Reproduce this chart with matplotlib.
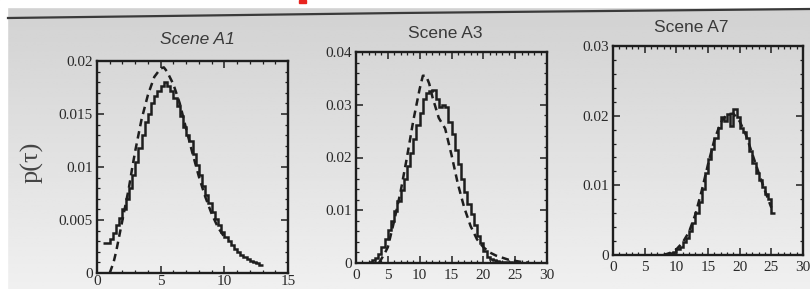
import matplotlib.pyplot as plt
import numpy as np
from matplotlib.lines import Line2D
from matplotlib.patches import Rectangle
from matplotlib.ticker import FuncFormatter, MultipleLocator

W, H = 810, 289

# Scene A1: measured histogram (solid steps) and model curve (dashed)
A1_EDGES = np.arange(0.5, 13.01, 0.25)
A1_HIST = [0.0028, 0.0028, 0.0032, 0.0038, 0.0045, 0.0052, 0.0060, 0.0070,
           0.0080, 0.0092, 0.0105, 0.0118, 0.0130, 0.0142, 0.0150, 0.0160,
           0.0167, 0.0172, 0.0176, 0.0180, 0.0176, 0.0172, 0.0165, 0.0158,
           0.0148, 0.0138, 0.0130, 0.0125, 0.0112, 0.0102, 0.0092, 0.0082,
           0.0074, 0.0066, 0.0058, 0.0051, 0.0045, 0.0039, 0.0034, 0.0030,
           0.0026, 0.0023, 0.0020, 0.0017, 0.0015, 0.0013, 0.0011, 0.0010,
           0.0009, 0.0008]
A1_FIT_X = [1.0, 1.3, 1.5, 1.75, 2.0, 2.25, 2.5, 2.75, 3.0, 3.5, 4.0, 4.5,
            5.0, 5.25, 5.5, 6.0, 6.5, 7.0, 7.5, 8.0, 8.5, 9.0, 9.5, 10.0]
A1_FIT_Y = [0.0, 0.001, 0.002, 0.0035, 0.005, 0.0065, 0.008, 0.0098, 0.0115,
            0.0145, 0.0168, 0.0185, 0.0193, 0.0194, 0.019, 0.0178, 0.016,
            0.0136, 0.0113, 0.0091, 0.0072, 0.0056, 0.0043, 0.0034]

# Scene A3
A3_EDGES = np.arange(2.0, 25.01, 0.5)
A3_HIST = [0.0002, 0.0005, 0.0010, 0.0018, 0.0030, 0.0045, 0.0062, 0.0080,
           0.0098, 0.0118, 0.0138, 0.0160, 0.0183, 0.0208, 0.0235, 0.0262,
           0.0285, 0.0310, 0.0322, 0.0326, 0.0328, 0.0310, 0.0295, 0.0300,
           0.0296, 0.0268, 0.0245, 0.0215, 0.0188, 0.0160, 0.0135, 0.0112,
           0.0092, 0.0072, 0.0052, 0.0038, 0.0022, 0.0012, 0.0008, 0.0005,
           0.0003, 0.0002, 0.0001, 0.0001, 0.0001, 0.0]
A3_FIT_X = [3.6, 4.0, 4.5, 5.0, 5.5, 6.0, 7.0, 8.0, 9.0, 10.0, 10.5, 11.0,
            11.5, 12.0, 13.0, 14.0, 15.0, 16.0, 17.0, 18.0, 19.0, 20.0, 21.0,
            22.0, 23.0, 24.0, 25.0, 26.0, 27.0]
A3_FIT_Y = [0.0, 0.0008, 0.0018, 0.003, 0.0055, 0.008, 0.0135, 0.020, 0.027,
            0.033, 0.0355, 0.0355, 0.034, 0.0315, 0.0275, 0.0255, 0.0205,
            0.015, 0.0105, 0.007, 0.0045, 0.003, 0.002, 0.0014, 0.001, 0.0006,
            0.0004, 0.0002, 0.0001]

# Scene A7
A7_EDGES = np.arange(8.0, 25.51, 0.5)
A7_HIST = [0.0001, 0.0002, 0.0003, 0.0005, 0.0008, 0.0012, 0.0018, 0.0025,
           0.0034, 0.0046, 0.0060, 0.0076, 0.0095, 0.0118, 0.0138, 0.0152,
           0.0168, 0.0182, 0.0198, 0.0192, 0.0202, 0.0185, 0.0210, 0.0198,
           0.0182, 0.0176, 0.0168, 0.0150, 0.0132, 0.0118, 0.0108, 0.0098,
           0.0088, 0.0080, 0.0060]
A7_FIT_X = [8.0, 9.0, 10.0, 11.0, 12.0, 13.0, 14.0, 15.0, 16.0, 17.0, 18.0,
            19.0, 20.0, 21.0, 22.0, 23.0, 24.0, 25.0]
A7_FIT_Y = [0.0, 0.0003, 0.0008, 0.0018, 0.0033, 0.0058, 0.0092, 0.013,
            0.0165, 0.019, 0.0202, 0.0203, 0.0192, 0.0172, 0.0145, 0.0118,
            0.0092, 0.0068]

TITLES = ["Scene A1", "Scene A3", "Scene A7"]
Y_LABEL = "p(\u03c4)"

INK = "#1e1e1e"

plt.rcParams["font.family"] = "Liberation Serif"
fig = plt.figure(figsize=(W / 100, H / 100), dpi=100)

# photographed page background
bg = fig.add_axes([0, 0, 1, 1], zorder=-10)
grad = np.linspace(0.82, 0.94, 100)[:, None] * np.ones((1, 2))
bg.imshow(grad, cmap="gray", vmin=0, vmax=1, aspect="auto",
          extent=[0, W, 0, H], origin="upper")
bg.add_patch(Rectangle((0, H - 7), W, 7, color="white"))
bg.add_patch(Rectangle((0, 0), 7, H - 7, color="white"))
bg.add_line(Line2D([8, 400, 810], [H - 18, H - 13, H - 9], color="#3a3a3a", lw=1.6))
bg.add_patch(Rectangle((299, H - 3), 7, 3, color="#e8231e"))
bg.set_xlim(0, W)
bg.set_ylim(0, H)
bg.axis("off")

panels = [
    dict(edges=A1_EDGES, hist=A1_HIST, fx=A1_FIT_X, fy=A1_FIT_Y,
         xlim=15, ylim=0.02, ymaj=0.005, ymin=0.001, xpad=1.5,
         box=(97, 288, 61, 273), tpos=(197, 40), style="italic"),
    dict(edges=A3_EDGES, hist=A3_HIST, fx=A3_FIT_X, fy=A3_FIT_Y,
         xlim=30, ylim=0.04, ymaj=0.01, ymin=0.002, xpad=4,
         box=(356, 547, 52, 263), tpos=(445, 34), style="normal"),
    dict(edges=A7_EDGES, hist=A7_HIST, fx=A7_FIT_X, fy=A7_FIT_Y,
         xlim=30, ylim=0.03, ymaj=0.01, ymin=0.002, xpad=4,
         box=(613, 803, 46, 255), tpos=(691, 28), style="normal"),
]

for p, title in zip(panels, TITLES):
    l, r, t, b = p["box"]
    ax = fig.add_axes([l / W, (H - b) / H, (r - l) / W, (b - t) / H])
    ax.set_facecolor("none")
    ax.stairs(p["hist"], p["edges"], baseline=None, color=INK, lw=1.8)
    ax.plot(p["fx"], p["fy"], color=INK, lw=1.8, ls=(0, (3, 2)))
    ax.set_xlim(0, p["xlim"])
    ax.set_ylim(0, p["ylim"])
    ax.xaxis.set_major_locator(MultipleLocator(5))
    ax.xaxis.set_minor_locator(MultipleLocator(1))
    ax.yaxis.set_major_locator(MultipleLocator(p["ymaj"]))
    ax.yaxis.set_minor_locator(MultipleLocator(p["ymin"]))
    ax.yaxis.set_major_formatter(FuncFormatter(lambda v, _: f"{v:g}"))
    ax.tick_params(which="both", direction="in", top=True, right=True,
                   colors=INK, labelcolor="#2a2a2a", labelsize=11)
    ax.tick_params(which="major", length=5, width=1.1, pad=3)
    ax.tick_params(which="minor", length=2.5, width=0.9)
    ax.tick_params(axis="x", which="major", pad=p["xpad"])
    for s in ax.spines.values():
        s.set_linewidth(1.7)
        s.set_color(INK)
    fig.text(p["tpos"][0] / W, 1 - p["tpos"][1] / H, title, ha="center",
             va="center", family="Liberation Sans", style=p["style"],
             fontsize=12.5, color="#3a3a3a")

fig.text(32 / W, 1 - 162 / H, Y_LABEL, rotation=90, ha="center", va="center",
         fontsize=19, color="#444444")

fig.savefig("out.png", dpi=100, facecolor=fig.get_facecolor())
